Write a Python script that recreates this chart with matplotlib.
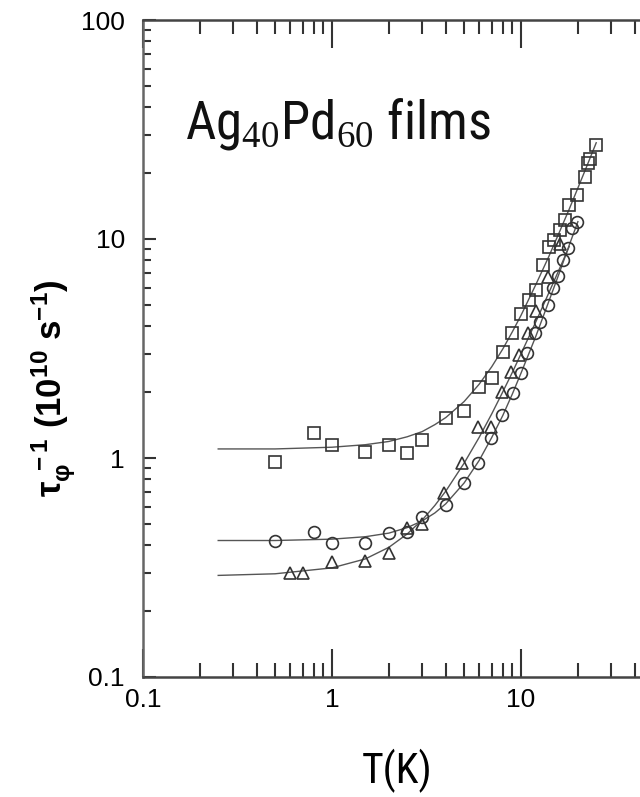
import matplotlib
matplotlib.use('Agg')
import matplotlib.pyplot as plt
from matplotlib import font_manager as fm
from matplotlib.ticker import LogLocator, NullFormatter, FixedFormatter, FixedLocator

# pick a narrow sans if one is installed
fams = {f.name for f in fm.fontManager.ttflist}
narrow = None
for cand in ['Liberation Sans Narrow', 'Arial Narrow', 'Roboto Condensed', 'Open Sans Condensed']:
    if cand in fams:
        narrow = cand
        break
dv_cond = [f for f in fm.fontManager.ttflist if 'Condensed' in f.fname and 'DejaVuSans' in f.fname]
if narrow is None and dv_cond:
    narrow = dv_cond[0].name
if narrow is None:
    narrow = 'Liberation Sans'
stretch = 'condensed' if narrow == 'DejaVu Sans' else 'normal'

plt.rcParams['font.family'] = ['Liberation Sans', 'DejaVu Sans']
plt.rcParams['mathtext.fontset'] = 'custom'
plt.rcParams['mathtext.rm'] = 'Liberation Serif'
plt.rcParams['mathtext.sf'] = 'Liberation Sans:bold'
plt.rcParams['mathtext.it'] = 'Liberation Sans:italic'

# measured points, squares / circles / triangles
T_sq = [0.5, 0.8, 1.0, 1.5, 2.0, 2.5, 3.0, 4.0, 5.0, 6.0, 7.0, 8.0, 9.0, 10.0,
        11.0, 12.0, 13.0, 14.0, 15.0, 16.0, 17.0, 18.0, 19.8, 21.8, 22.5, 23.2, 24.8]
r_sq = [0.96, 1.30, 1.15, 1.06, 1.15, 1.05, 1.21, 1.52, 1.64, 2.11, 2.32, 3.05, 3.72, 4.54,
        5.27, 5.85, 7.6, 9.2, 9.9, 11.0, 12.2, 14.3, 15.9, 19.2, 22.3, 23.2, 27.0]

T_ci = [0.5, 0.8, 1.0, 1.5, 2.0, 2.5, 3.0, 4.0, 5.0, 5.9, 6.9, 7.9, 9.1, 10.0,
        10.7, 11.9, 12.6, 13.9, 14.8, 15.7, 16.7, 17.7, 18.6, 19.8]
r_ci = [0.42, 0.46, 0.41, 0.41, 0.455, 0.46, 0.54, 0.61, 0.77, 0.95, 1.23, 1.57, 1.98, 2.44,
        3.02, 3.72, 4.17, 5.0, 6.0, 6.8, 8.0, 9.1, 11.2, 12.0]

T_tr = [0.6, 0.7, 1.0, 1.5, 2.0, 2.5, 3.0, 3.9, 4.9, 5.9, 6.9, 7.9, 8.9, 9.8,
        10.9, 12.0, 13.9, 16.0]
r_tr = [0.30, 0.30, 0.335, 0.34, 0.37, 0.48, 0.50, 0.69, 0.95, 1.39, 1.39, 2.0, 2.47, 2.95,
        3.72, 4.7, 6.7, 9.5]

# fitted curves
T_fit = [0.25, 0.5, 1, 1.5, 2, 2.5, 3, 3.5, 4, 5, 6, 7, 8, 9, 10, 12, 14, 16, 18, 20, 22, 25]
fit_sq = [1.10, 1.10, 1.12, 1.15, 1.19, 1.25, 1.32, 1.42, 1.53, 1.81, 2.17, 2.61, 3.14, 3.77,
          4.48, 6.21, 8.28, 10.8, 13.7, 17.1, 20.9, 27.5]
fit_ci = [0.42, 0.42, 0.426, 0.437, 0.454, 0.481, 0.516, 0.561, 0.618, 0.769, 0.973, 1.24,
          1.56, 1.96, 2.44, 3.61, 5.16, 7.05, 9.38, 12.0]
fit_tr = [0.291, 0.296, 0.315, 0.346, 0.391, 0.450, 0.521, 0.607, 0.706, 0.947, 1.24, 1.59,
          2.00, 2.46, 2.99, 4.20, 5.65, 7.33, 9.24]

fig = plt.figure(figsize=(6.4, 7.97), dpi=100)
ax = fig.add_axes([143/640, 1 - 677/797, 567/640, 657/797])

line_col = '#555555'
ax.plot(T_fit, fit_sq, color=line_col, lw=1.0)
ax.plot(T_fit[:len(fit_ci)], fit_ci, color=line_col, lw=1.0)
ax.plot(T_fit[:len(fit_tr)], fit_tr, color=line_col, lw=1.0)

mk = dict(ls='none', mfc='none', mec='#333333', mew=1.2)
ax.plot(T_sq, r_sq, marker='s', ms=8, **mk)
ax.plot(T_ci, r_ci, marker='o', ms=8.5, **mk)
ax.plot(T_tr, r_tr, marker='^', ms=9, **mk)

ax.set_xscale('log')
ax.set_yscale('log')
ax.set_xlim(0.1, 100)
ax.set_ylim(0.1, 100)

ax.xaxis.set_major_locator(FixedLocator([0.1, 1, 10]))
ax.xaxis.set_major_formatter(FixedFormatter(['0.1', '1', '10']))
ax.yaxis.set_major_locator(FixedLocator([0.1, 1, 10, 100]))
ax.yaxis.set_major_formatter(FixedFormatter(['0.1', '1', '10', '100']))
for a in (ax.xaxis, ax.yaxis):
    a.set_minor_locator(LogLocator(base=10, subs=range(2, 10)))
    a.set_minor_formatter(NullFormatter())

ax.tick_params(axis='x', which='major', direction='in', top=True, length=20, width=1.5,
               color='#333333', labelsize=19, pad=8)
ax.tick_params(axis='x', which='minor', direction='in', top=True, length=10, width=1.5,
               color='#333333')
ax.tick_params(axis='y', which='major', direction='in', right=True, length=9, width=1.5,
               color='#333333', labelsize=19, pad=13)
ax.tick_params(axis='y', which='minor', direction='in', right=True, length=6, width=1.5,
               color='#333333')
for s in ax.spines.values():
    s.set_linewidth(1.8)
    s.set_color('#444444')
ax.spines['left'].set_color('#666666')

if narrow == 'Liberation Sans':
    xl_size, title_size = 27, 34
else:
    xl_size, title_size = 30, 38
ax.set_xlabel('T(K)', fontsize=xl_size, family=[narrow, 'DejaVu Sans'],
              fontstretch=stretch)
ax.xaxis.set_label_coords((397 - 143) / 567, -(749 - 677) / 657)
fig.text(54/640, 1 - 388/797, r'$\mathsf{\tau_{\varphi}^{\ -1}\ (10^{10}\ s^{-1})}$',
         rotation=90, ha='center', va='center', fontsize=25)

fig.text(185/640, 1 - 139/797, r'Ag$_{40}$Pd$_{60}$ films', fontsize=title_size,
         ha='left', va='baseline', color='#111111', family=[narrow, 'DejaVu Sans'],
         fontstretch=stretch)

fig.savefig('out.png', dpi=100)
